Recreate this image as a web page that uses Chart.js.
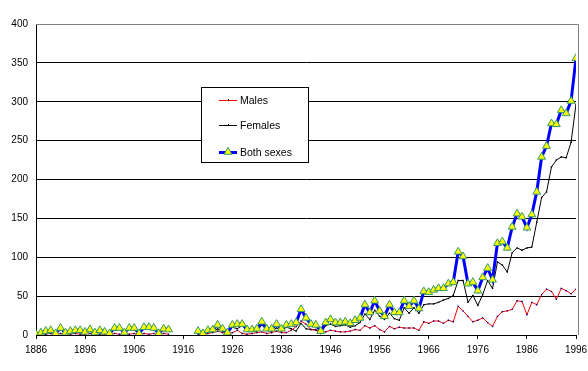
<!DOCTYPE html>
<html>
<head>
<meta charset="utf-8">
<script src="https://cdn.jsdelivr.net/npm/chart.js@4.4.0/dist/chart.umd.min.js"></script>
<style>
  html, body { margin: 0; padding: 0; background: #fff; }
</style>
</head>
<body>
<canvas id="chart" width="588" height="371"></canvas>
<script>
// years 1886..1996, no data for 1914-1918
const years = Array.from({ length: 111 }, (_, i) => 1886 + i);
const tickYears = [1886, 1896, 1906, 1916, 1926, 1936, 1946, 1956, 1966, 1976, 1986, 1996];

const males = [
    0, 1, 1, 2, 0, 2, 1, 1, 2, 1,            // 1886-1895
    1, 2, 1, 1, 1, 0, 2, 1, 1, 1,            // 1896-1905
    2, 0, 2, 1, 2, 0, 2, 1,                  // 1906-1913
    null, null, null, null, null,            // 1914-1918
    1, 1, 2, 3, 5, 3, 2,                     // 1919-1925
    3, 6, 2, 1, 2, 3, 4, 2, 3, 5,            // 1926-1935
    3, 3, 6, 11, 18, 14, 7, 6, 3, 4,         // 1936-1945
    6, 5, 4, 4, 5, 7, 6, 12, 9, 12,          // 1946-1955
    7, 4, 11, 8, 10, 9, 9, 9, 6, 17,         // 1956-1965
    15, 18, 18, 15, 19, 17, 37, 31, 24, 17,  // 1966-1975
    19, 22, 16, 11, 24, 30, 31, 33, 44, 43,  // 1976-1985
    26, 42, 39, 52, 59, 56, 46, 60, 57, 53,  // 1986-1995
    59                                       // 1996
];

const females = [
    1, 2, 4, 4, 2, 7, 2, 4, 4, 5,
    3, 5, 2, 5, 3, 2, 7, 8, 2, 8,
    7, 2, 8, 9, 7, 2, 6, 6,
    null, null, null, null, null,
    4, 1, 4, 4, 8, 5, 1,
    10, 8, 12, 6, 5, 5, 13, 6, 5, 9,
    5, 10, 8, 5, 15, 8, 7, 7, 2, 12,
    14, 11, 12, 13, 10, 12, 16, 27, 20, 32,
    24, 20, 28, 21, 19, 35, 28, 35, 28, 39,
    40, 40, 42, 45, 47, 51, 70, 70, 42, 51,
    38, 52, 70, 60, 94, 90, 81, 106, 112, 109,
    112, 113, 145, 177, 184, 216, 225, 229, 228, 248,
    297
];

const both = [
    1, 3, 5, 6, 2, 9, 3, 5, 6, 6,
    4, 7, 3, 6, 4, 2, 9, 9, 3, 9,
    9, 2, 10, 10, 9, 2, 8, 7,
    null, null, null, null, null,
    5, 2, 6, 7, 13, 8, 3,
    13, 14, 14, 7, 7, 8, 17, 8, 8, 14,
    8, 13, 14, 16, 33, 22, 14, 13, 5, 16,
    20, 16, 16, 17, 15, 19, 22, 39, 29, 44,
    31, 24, 39, 29, 29, 44, 37, 44, 34, 56,
    55, 58, 60, 60, 66, 68, 107, 101, 66, 68,
    57, 74, 86, 71, 118, 120, 112, 139, 156, 152,
    138, 155, 184, 229, 243, 272, 271, 289, 285, 301,
    356
];

const FONT = { family: 'Arial, "Liberation Sans", sans-serif', size: 10 };

// gray plot frame (top/right) and the boxed legend inside the plot
const frameAndLegend = {
    id: 'frameAndLegend',
    afterDraw(chart) {
        const ctx = chart.ctx;
        const a = chart.chartArea;
        ctx.save();
        ctx.strokeStyle = '#808080';
        ctx.lineWidth = 1;
        ctx.beginPath();
        ctx.moveTo(a.left, a.top + 0.5);
        ctx.lineTo(a.right + 2.5, a.top + 0.5);
        ctx.lineTo(a.right + 2.5, a.bottom);
        ctx.stroke();

        // legend box
        ctx.fillStyle = '#fff';
        ctx.fillRect(201, 87, 108, 76);
        ctx.strokeStyle = '#000';
        ctx.strokeRect(201.5, 87.5, 107, 75);

        const rows = [
            { ds: chart.data.datasets[0], y: 100 },
            { ds: chart.data.datasets[1], y: 125 },
            { ds: chart.data.datasets[2], y: 152 },
        ];
        ctx.font = '10.5px Arial, "Liberation Sans", sans-serif';
        ctx.textBaseline = 'middle';
        rows.forEach(r => {
            ctx.strokeStyle = r.ds.borderColor;
            ctx.lineWidth = r.ds.borderWidth;
            ctx.beginPath();
            ctx.moveTo(219, r.y + 0.5);
            ctx.lineTo(237, r.y + 0.5);
            ctx.stroke();
            if (r.ds.pointStyle === 'triangle') {
                ctx.fillStyle = r.ds.pointBackgroundColor;
                ctx.strokeStyle = r.ds.pointBorderColor;
                ctx.lineWidth = 1;
                Chart.helpers.drawPoint(ctx, { pointStyle: 'triangle', radius: 4.5, borderWidth: 1 }, 228, r.y);
            } else {
                ctx.strokeStyle = '#000';
                ctx.lineWidth = 1;
                ctx.beginPath();
                ctx.moveTo(228.5, r.y - 1);
                ctx.lineTo(228.5, r.y + 1);
                ctx.stroke();
            }
            ctx.fillStyle = '#000';
            ctx.fillText(r.ds.label, 240, r.y + 1);
        });
        ctx.restore();
    }
};

new Chart(document.getElementById('chart'), {
    type: 'line',
    data: {
        labels: years,
        datasets: [
            {
                label: 'Males',
                data: males,
                borderColor: '#FF0000',
                borderWidth: 1,
                pointStyle: 'rect',
                pointRadius: 1,
                pointBackgroundColor: '#000080',
                pointBorderColor: '#000080',
                pointBorderWidth: 0,
                order: 1,
            },
            {
                label: 'Females',
                data: females,
                borderColor: '#000000',
                borderWidth: 1,
                pointStyle: 'rect',
                pointRadius: 1,
                pointBackgroundColor: '#000000',
                pointBorderColor: '#000000',
                pointBorderWidth: 0,
                order: 2,
            },
            {
                label: 'Both sexes',
                data: both,
                borderColor: '#0000FF',
                borderWidth: 3,
                pointStyle: 'triangle',
                pointRadius: 4.5,
                pointBackgroundColor: '#FFFF00',
                pointBorderColor: '#339966',
                pointBorderWidth: 1,
                order: 0,
            },
        ],
    },
    options: {
        responsive: false,
        animation: false,
        spanGaps: false,
        layout: { padding: { top: 24, right: 12, bottom: 16, left: 0 } },
        plugins: {
            legend: { display: false },
            tooltip: { enabled: false },
        },
        elements: { line: { tension: 0 } },
        scales: {
            x: {
                type: 'linear',
                min: 1886,
                max: 1996,
                afterBuildTicks: (s) => { s.ticks = tickYears.map(v => ({ value: v })); },
                afterFit: (s) => { s.height = 20; s.paddingRight = 0; s.paddingLeft = 0; },
                ticks: {
                    autoSkip: false,
                    maxRotation: 0,
                    padding: 5,
                    color: '#000',
                    font: FONT,
                    callback: (v) => String(v),
                },
                grid: { drawOnChartArea: false, drawTicks: true, tickLength: 4, color: '#000' },
                border: { color: '#000', width: 1 },
            },
            y: {
                min: 0,
                max: 400,
                afterFit: (s) => { s.width = 36; },
                ticks: { stepSize: 50, padding: 8, color: '#000', font: FONT },
                grid: { color: '#000', drawTicks: false, lineWidth: 1 },
                border: { color: '#000', width: 1 },
            },
        },
    },
    plugins: [frameAndLegend],
});
</script>
</body>
</html>
